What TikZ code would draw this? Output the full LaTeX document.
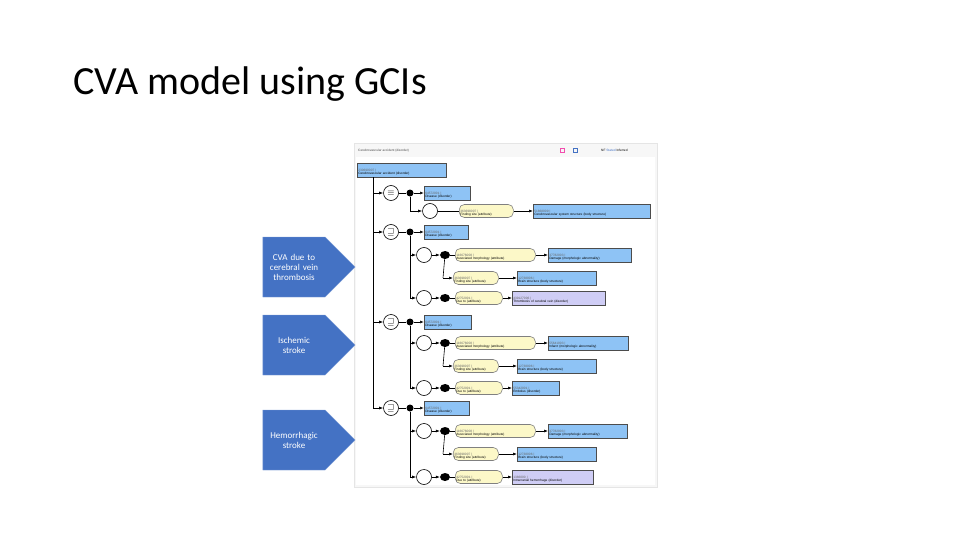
\documentclass[tikz,border=0pt]{standalone}
\usepackage{fontspec}
\setmainfont{Carlito}
\newfontfamily\smallf{Liberation Sans}
\usetikzlibrary{shapes.arrows,shapes.geometric,arrows.meta}
\definecolor{bl}{HTML}{8EC3F5}
\definecolor{ye}{HTML}{FCF8C8}
\definecolor{pu}{HTML}{CFCDF5}
\definecolor{ar}{HTML}{4472C4}
\tikzset{
 tx/.style={font=\smallf\fontsize{3.2}{3.6}\selectfont,align=left,inner sep=1pt,text depth=0pt},
 bbox/.style={tx,draw=black!70,fill=bl,line width=0.6pt,minimum height=14,anchor=west,text width=#1-3},
 pbox/.style={bbox=#1,fill=pu},
 ybox/.style={tx,draw=black!50,fill=ye,rounded corners=5,line width=0.6pt,minimum height=13,anchor=west,text width=#1-4},
 circ/.style={circle,draw,fill=white,minimum size=15,inner sep=0,line width=0.6pt,font=\small},
 dot/.style={circle,fill=black,minimum size=7,inner sep=0},
 ddot/.style={ellipse,fill=black,minimum width=10,minimum height=8,inner sep=0},
 ln/.style={line width=0.6pt},
 arr/.style={ln,-{Latex[length=4pt,width=3pt]}},
 oarr/.style={ln,-{Latex[open,length=4pt,width=3pt]}},
 icon/.style={draw=#1,minimum size=4,inner sep=0,line width=0.5pt},
 bigarr/.style={single arrow,fill=ar,draw=ar!70!white,minimum height=92,minimum width=60,single arrow head extend=0,single arrow tip angle=90,text width=60,align=center,text=white,font=\fontsize{9}{10}\selectfont,inner sep=1pt},
}
\newcommand\lb[2]{{\color{black!60}#1}\\#2}
\newcommand\grp[4]{% y, symbol, prefix, width
 \coordinate (#3t) at (373,#1);
 \node[circ] (#3c) at (391,#1) {$#2$};
 \node[dot] (#3d) at (410,#1) {};
 \node[bbox=#4] (#3b) at (424,#1) {\lb{64572001 |}{Disease (disorder)}};
 \draw[arr] (#3t) -- (#3c); \draw[ln] (#3c) -- (#3d); \draw[oarr] (#3d) -- (#3b);}
\newcommand\rrow[9]{% prefix,y,yx,yw,ytext,bx,bw,btext,style
 \node[ybox=#4] (#1y) at (#3,#2) {#5};
 \node[#9=#7] (#1b) at (#6,#2) {#8};
 \draw[arr] (#1y) -- (#1b);}
\newcommand\subblk[9]{% prefix, y0, morph blue text, bw, site blue text, ydue, due blue, due bw, due style
 \coordinate (#1v) at (410,#6);
 \node[circ] (#1c1) at (424,#2) {};
 \node[ddot] (#1d1) at (445,#2) {};
 \coordinate (#1a1) at (410,#2);
 \draw[arr] (#1a1) -- (#1c1); \draw[arr] (#1c1) -- (#1d1);
 \rrow{#1m}{#2}{455}{82}{\lb{116676008 |}{Associated morphology (attribute)}}{548}{#4}{#3}{bbox}
 \draw[ln] (#1d1) -- (#1my);
 \coordinate (#1s0) at (443,#2+23);
 \draw[ln] (#1d1) -- (#1s0);
 \rrow{#1s}{#2+23}{453}{47}{\lb{363698007 |}{Finding site (attribute)}}{517}{80}{#5}{bbox}
 \draw[arr] (#1s0) -- (#1sy);
 \node[circ] (#1c2) at (424,#6) {};
 \node[ddot] (#1d2) at (445,#6) {};
 \draw[arr] (#1v) -- (#1c2); \draw[arr] (#1c2) -- (#1d2);
 \rrow{#1d}{#6}{455}{49}{\lb{42752001 |}{Due to (attribute)}}{512}{#8}{#7}{#9}
 \draw[ln] (#1d2) -- (#1dy);}
\begin{document}
\begin{tikzpicture}[x=1pt,y=-1pt]
\useasboundingbox (0,0) rectangle (960,540);
\node[anchor=base west,font=\fontsize{40}{44}\selectfont,inner sep=0] (title) at (73,95) {CVA model using GCIs};
% panel
\node[draw=black!10,fill=black!3,minimum width=303,minimum height=344,anchor=north west,inner sep=0] (panel) at (354,143) {};
\node[fill=white,minimum width=299,minimum height=328,anchor=north west,inner sep=0] (inner) at (356,157) {};
\node[tx,anchor=west,text=black!70] (hdr) at (357,150) {Cerebrovascular accident (disorder)};
\node[icon=magenta!70] (ic1) at (562,150) {};
\node[icon=ar] (ic2) at (575,150) {};
\node[tx,anchor=west] (nf) at (600,150) {NF \textcolor{ar}{Stated} Inferred};
\node[bbox=90] (root) at (357,170) {\lb{230690007 |}{Cerebrovascular accident (disorder)}};
\coordinate (trunkend) at (373,408);
\draw[ln] (root.south west -| trunkend) -- (trunkend);
% group 1
\grp{193}{\equiv}{ga}{47}
\coordinate (ga1) at (410,211);
\draw[ln] (gad) -- (ga1);
\node[circ] (gac) at (430,211) {};
\draw[arr] (ga1) -- (gac);
\rrow{gar}{211}{459}{56}{\lb{363698007 |}{Finding site (attribute)}}{533}{118}{\lb{51868009 |}{Cerebrovascular system structure (body structure)}}{bbox}
\draw[ln] (gac) -- (gary);
% group 2
\grp{232}{\sqsupseteq}{gb}{45}
\coordinate (gbe) at (410,298);
\draw[ln] (gbd) -- (gbe);
\subblk{sb}{255}{\lb{37782003 |}{Damage (morphologic abnormality)}}{84}{\lb{12738006 |}{Brain structure (body structure)}}{298}{\lb{439127006 |}{Thrombosis of cerebral vein (disorder)}}{94}{pbox}
% group 3
\grp{322}{\sqsupseteq}{gc}{48}
\coordinate (gce) at (410,388);
\draw[ln] (gcd) -- (gce);
\subblk{sc}{343}{\lb{55641003 |}{Infarct (morphologic abnormality)}}{81}{\lb{12738006 |}{Brain structure (body structure)}}{388}{\lb{55342001 |}{Embolus (disorder)}}{48}{bbox}
% group 4
\grp{408}{\sqsupseteq}{gd}{46}
\coordinate (gde) at (410,477);
\draw[ln] (gdd) -- (gde);
\subblk{sd}{431}{\lb{37782003 |}{Damage (morphologic abnormality)}}{80}{\lb{12738006 |}{Brain structure (body structure)}}{477}{\lb{1386000 |}{Intracranial hemorrhage (disorder)}}{82}{pbox}
% big arrows
\node[bigarr] (a1) at (294,267) {CVA due to\\cerebral vein\\thrombosis};
\node[bigarr] (a2) at (294,345) {Ischemic\\stroke};
\node[bigarr] (a3) at (294,440) {Hemorrhagic\\stroke};
\end{tikzpicture}
\end{document}
